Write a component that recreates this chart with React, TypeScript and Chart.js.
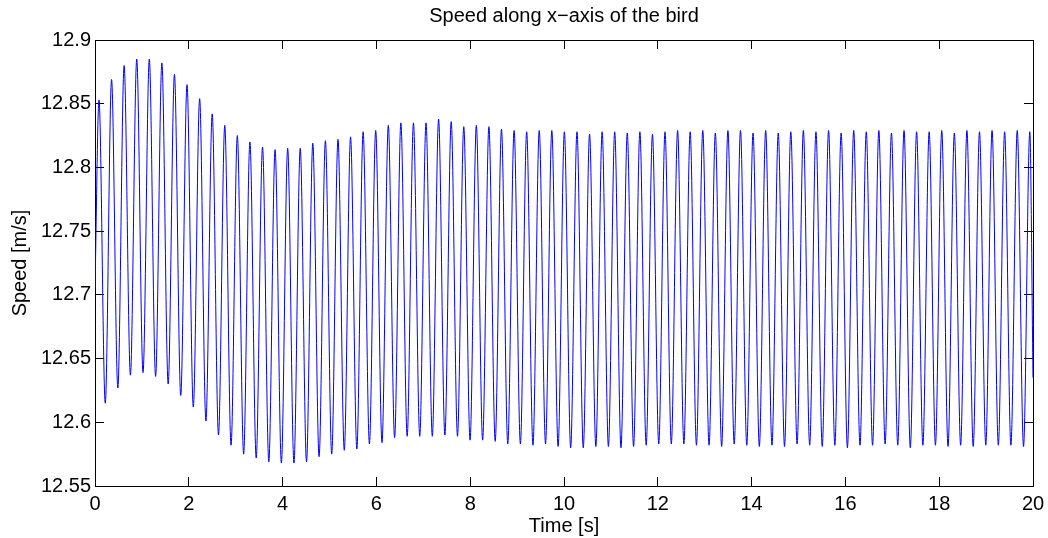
import React, { useEffect, useRef } from "react";
import { Chart, registerables } from "chart.js";

Chart.register(...registerables);

// ---- Text ----
const titleText = "Speed along x\u2212axis of the bird";
const xAxisTitle = "Time [s]";
const yAxisTitle = "Speed [m/s]";

// ---- Ticks ----
const xTickValues = [0, 2, 4, 6, 8, 10, 12, 14, 16, 18, 20];
const xTickLabels = ["0", "2", "4", "6", "8", "10", "12", "14", "16", "18", "20"];
const yTickValues = [12.55, 12.6, 12.65, 12.7, 12.75, 12.8, 12.85, 12.9];
const yTickLabels = ["12.55", "12.6", "12.65", "12.7", "12.75", "12.8", "12.85", "12.9"];

// ---- Series: speed signal (start, oscillation extremes, end) ----
const startTime = 0;
const startSpeed = 12.705;

const peakTimes = [
  0.085, 0.353, 0.621, 0.89, 1.158, 1.426, 1.694, 1.962, 2.231, 2.499,
  2.767, 3.035, 3.303, 3.572, 3.84, 4.108, 4.376, 4.644, 4.913, 5.181,
  5.449, 5.717, 5.985, 6.254, 6.522, 6.79, 7.058, 7.326, 7.595, 7.863,
  8.131, 8.399, 8.667, 8.936, 9.204, 9.472, 9.74, 10.008, 10.277, 10.545,
  10.813, 11.081, 11.349, 11.618, 11.886, 12.154, 12.422, 12.69, 12.959, 13.227,
  13.495, 13.763, 14.031, 14.3, 14.568, 14.836, 15.104, 15.372, 15.641, 15.909,
  16.177, 16.445, 16.713, 16.982, 17.25, 17.518, 17.786, 18.054, 18.323, 18.591,
  18.859, 19.127, 19.395, 19.664, 19.932,
];
const peakSpeeds = [
  12.853, 12.869, 12.88, 12.885, 12.885, 12.882, 12.873, 12.865, 12.854, 12.842,
  12.833, 12.825, 12.82, 12.816, 12.814, 12.815, 12.815, 12.819, 12.821, 12.822,
  12.824, 12.828, 12.829, 12.833, 12.835, 12.835, 12.835, 12.838, 12.836, 12.832,
  12.833, 12.832, 12.83, 12.829, 12.828, 12.829, 12.829, 12.828, 12.828, 12.826,
  12.828, 12.828, 12.827, 12.828, 12.826, 12.828, 12.829, 12.828, 12.829, 12.827,
  12.829, 12.829, 12.827, 12.829, 12.827, 12.828, 12.829, 12.828, 12.829, 12.827,
  12.829, 12.828, 12.829, 12.827, 12.829, 12.828, 12.828, 12.829, 12.827, 12.829,
  12.828, 12.829, 12.828, 12.829, 12.828,
];

const troughTimes = [
  0.219, 0.487, 0.755, 1.024, 1.292, 1.56, 1.828, 2.096, 2.365, 2.633,
  2.901, 3.169, 3.437, 3.706, 3.974, 4.242, 4.51, 4.778, 5.047, 5.315,
  5.583, 5.851, 6.119, 6.388, 6.656, 6.924, 7.192, 7.46, 7.729, 7.997,
  8.265, 8.533, 8.801, 9.07, 9.338, 9.606, 9.874, 10.142, 10.411, 10.679,
  10.947, 11.215, 11.483, 11.752, 12.02, 12.288, 12.556, 12.824, 13.093, 13.361,
  13.629, 13.897, 14.165, 14.434, 14.702, 14.97, 15.238, 15.506, 15.775, 16.043,
  16.311, 16.579, 16.847, 17.116, 17.384, 17.652, 17.92, 18.188, 18.457, 18.725,
  18.993, 19.261, 19.529, 19.798,
];
const troughSpeeds = [
  12.615, 12.627, 12.637, 12.639, 12.636, 12.63, 12.621, 12.612, 12.601, 12.59,
  12.582, 12.575, 12.572, 12.569, 12.568, 12.568, 12.569, 12.573, 12.575, 12.578,
  12.579, 12.583, 12.584, 12.588, 12.589, 12.589, 12.589, 12.59, 12.589, 12.586,
  12.586, 12.585, 12.583, 12.583, 12.582, 12.583, 12.581, 12.58, 12.58, 12.581,
  12.581, 12.58, 12.581, 12.582, 12.583, 12.583, 12.583, 12.582, 12.582, 12.581,
  12.583, 12.582, 12.581, 12.582, 12.581, 12.583, 12.582, 12.581, 12.582, 12.58,
  12.582, 12.582, 12.583, 12.582, 12.58, 12.582, 12.582, 12.581, 12.582, 12.581,
  12.582, 12.582, 12.582, 12.581,
];

const endTime = 20;
const endSpeed = 12.635;

const fontFamily = '"Liberation Sans", Arial, Helvetica, sans-serif';

function labelFor(values: number[], labels: string[], v: number): string {
  const i = values.findIndex((t) => Math.abs(t - v) < 1e-6);
  return i >= 0 ? labels[i] : "";
}

export default function App() {
  const canvasRef = useRef<HTMLCanvasElement | null>(null);

  useEffect(() => {
    const canvas = canvasRef.current;
    if (!canvas) return;

    const points: { x: number; y: number }[] = [{ x: startTime, y: startSpeed }];
    for (let i = 0; i < peakTimes.length; i++) {
      points.push({ x: peakTimes[i], y: peakSpeeds[i] });
      if (i < troughTimes.length) points.push({ x: troughTimes[i], y: troughSpeeds[i] });
    }
    points.push({ x: endTime, y: endSpeed });

    const font = { family: fontFamily, size: 20 };
    const grid = {
      drawOnChartArea: false,
      drawTicks: true,
      tickLength: -9,
      color: "#000",
      lineWidth: 1,
    };
    const border = { display: true, color: "#000", width: 1 };
    const xTicksBuild = (s: any) => {
      s.ticks = xTickValues.map((v) => ({ value: v }));
    };
    const yTicksBuild = (s: any) => {
      s.ticks = yTickValues.map((v) => ({ value: v }));
    };
    const noPad = (s: any) => {
      s.paddingLeft = 0;
      s.paddingRight = 0;
      s.paddingTop = 0;
      s.paddingBottom = 0;
    };

    const chart = new Chart(canvas, {
      type: "line",
      data: {
        datasets: [
          {
            label: "Speed",
            data: points,
            borderColor: "#0000ff",
            borderWidth: 1,
            pointRadius: 0,
            fill: false,
            cubicInterpolationMode: "monotone",
          },
        ],
      },
      options: {
        animation: false,
        responsive: false,
        maintainAspectRatio: false,
        devicePixelRatio: 1,
        layout: { padding: 0 },
        plugins: {
          legend: { display: false },
          tooltip: { enabled: false },
          title: { display: false },
        },
        scales: {
          x: {
            type: "linear",
            position: "bottom",
            min: 0,
            max: 20,
            grid,
            border,
            ticks: {
              font,
              color: "#000",
              padding: 15,
              maxRotation: 0,
              autoSkip: false,
              callback: (v: any) => labelFor(xTickValues, xTickLabels, Number(v)),
            },
            title: {
              display: true,
              text: xAxisTitle,
              font,
              color: "#000",
              padding: { top: 0, bottom: 0 },
            },
            afterBuildTicks: xTicksBuild,
            afterFit: (s: any) => {
              s.height = 52;
              noPad(s);
            },
          },
          xTop: {
            axis: "x",
            type: "linear",
            position: "top",
            min: 0,
            max: 20,
            grid,
            border,
            ticks: { display: false },
            title: {
              display: true,
              text: titleText,
              font,
              color: "#000",
              padding: { top: 4, bottom: 0 },
            },
            afterBuildTicks: xTicksBuild,
            afterFit: (s: any) => {
              s.height = 40;
              noPad(s);
            },
          },
          y: {
            type: "linear",
            position: "left",
            min: 12.55,
            max: 12.9,
            grid,
            border,
            ticks: {
              font,
              color: "#000",
              padding: 13,
              autoSkip: false,
              callback: (v: any) => labelFor(yTickValues, yTickLabels, Number(v)),
            },
            title: {
              display: true,
              text: yAxisTitle,
              font,
              color: "#000",
              padding: { top: 8, bottom: 0 },
            },
            afterBuildTicks: yTicksBuild,
            afterFit: (s: any) => {
              s.width = 95;
              noPad(s);
            },
          },
          yRight: {
            axis: "y",
            type: "linear",
            position: "right",
            min: 12.55,
            max: 12.9,
            grid,
            border,
            ticks: { display: false },
            afterBuildTicks: yTicksBuild,
            afterFit: (s: any) => {
              s.width = 15;
              noPad(s);
            },
          },
        },
      } as any,
    });

    return () => {
      chart.destroy();
    };
  }, []);

  return (
    <div
      style={{
        position: "absolute",
        left: 0,
        top: 0,
        width: 1048,
        height: 538,
        background: "#fff",
      }}
    >
      <canvas
        ref={canvasRef}
        width={1048}
        height={538}
        style={{ display: "block", width: 1048, height: 538 }}
      />
    </div>
  );
}
